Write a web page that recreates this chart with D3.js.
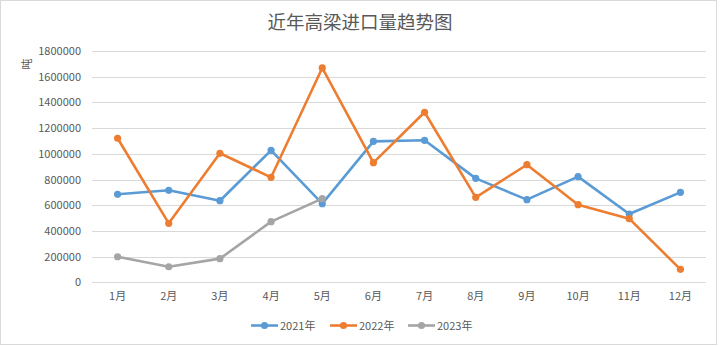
<!DOCTYPE html>
<html><head><meta charset="utf-8">
<script src="https://cdn.jsdelivr.net/npm/d3@7/dist/d3.min.js"></script>
<style>
html,body{margin:0;padding:0;background:#fff;}
text{font-family:"Noto Sans CJK SC","Microsoft YaHei",sans-serif;}
</style></head>
<body>
<svg id="chart" width="721" height="346"></svg>
<script>
const title = "近年高梁进口量趋势图";
const yLabel = "吨";
const months = ["1月","2月","3月","4月","5月","6月","7月","8月","9月","10月","11月","12月"];
const seriesNames = ["2021年","2022年","2023年"];
const colors = ["#5B9BD5","#ED7D31","#A5A5A5"];
const v2021 = [685000,716000,635000,1027000,612000,1097000,1105000,809000,643000,822000,531000,700000];
const v2022 = [1121000,459000,1004000,817000,1668000,931000,1323000,661000,915000,604000,495000,101000];
const v2023 = [199000,121000,184000,472000,651000];
const yTicks = [0,200000,400000,600000,800000,1000000,1200000,1400000,1600000,1800000];

const series = [v2021, v2022, v2023];
const svg = d3.select("#chart");
const W = 721, H = 346;
const m = {left:92, right:706, top:51, bottom:282.3};

svg.append("rect").attr("x",0.5).attr("y",0.5).attr("width",716).attr("height",344)
  .attr("fill","#fff").attr("stroke","#d9d9d9").attr("stroke-width",1);

svg.append("text").attr("x",360).attr("y",29).attr("text-anchor","middle")
  .attr("font-size",18.5).attr("fill","#595959").text(title);

const x = d3.scaleBand().domain(months).range([m.left, m.right]);
const y = d3.scaleLinear().domain([0,1800000]).range([m.bottom, m.top]);

// gridlines
svg.append("g").selectAll("line").data(yTicks).join("line")
  .attr("x1",m.left).attr("x2",m.right)
  .attr("y1",d=>Math.round(y(d))+0.5).attr("y2",d=>Math.round(y(d))+0.5)
  .attr("stroke","#d9d9d9").attr("stroke-width",1);

// y axis labels
const yAxis = d3.axisLeft(y).tickValues(yTicks).tickSize(0).tickPadding(0).tickFormat(d3.format("d"));
const gy = svg.append("g").attr("transform",`translate(81,0)`).call(yAxis);
gy.select(".domain").remove();
gy.selectAll("text").attr("font-size",11).attr("fill","#595959")
  .attr("font-family","'Noto Sans CJK SC',sans-serif");

// x axis labels
const xAxis = d3.axisBottom(x).tickSize(0).tickPadding(0);
const gx = svg.append("g").attr("transform",`translate(0,${m.bottom+10})`).call(xAxis);
gx.select(".domain").remove();
gx.selectAll("text").attr("font-size",11).attr("fill","#595959")
  .attr("font-family","'Noto Sans CJK SC',sans-serif");

// y label
svg.append("text").attr("transform","translate(31,64) rotate(-90)")
  .attr("text-anchor","middle").attr("font-size",11).attr("fill","#595959").text(yLabel);

const cx = (i)=> x(months[i]) + x.bandwidth()/2;
const line = d3.line().x((d,i)=>cx(i)).y(d=>y(d));

series.forEach((vals, si)=>{
  const g = svg.append("g");
  g.append("path").datum(vals).attr("d",line).attr("fill","none")
    .attr("stroke",colors[si]).attr("stroke-width",2.6).attr("stroke-linejoin","round").attr("stroke-linecap","round");
  g.selectAll("circle").data(vals).join("circle")
    .attr("cx",(d,i)=>cx(i)).attr("cy",d=>y(d)).attr("r",3.6).attr("fill",colors[si]);
});

// legend
const legX = [251, 330, 408];
const legY = 325.5;
seriesNames.forEach((n,i)=>{
  const g = svg.append("g");
  g.append("line").attr("x1",legX[i]).attr("x2",legX[i]+27).attr("y1",legY).attr("y2",legY)
    .attr("stroke",colors[i]).attr("stroke-width",2.6);
  g.append("circle").attr("cx",legX[i]+13.5).attr("cy",legY).attr("r",3.6).attr("fill",colors[i]);
  g.append("text").attr("x",legX[i]+29).attr("y",legY+4).attr("font-size",11).attr("fill","#595959").text(n);
});
</script>
</body></html>
